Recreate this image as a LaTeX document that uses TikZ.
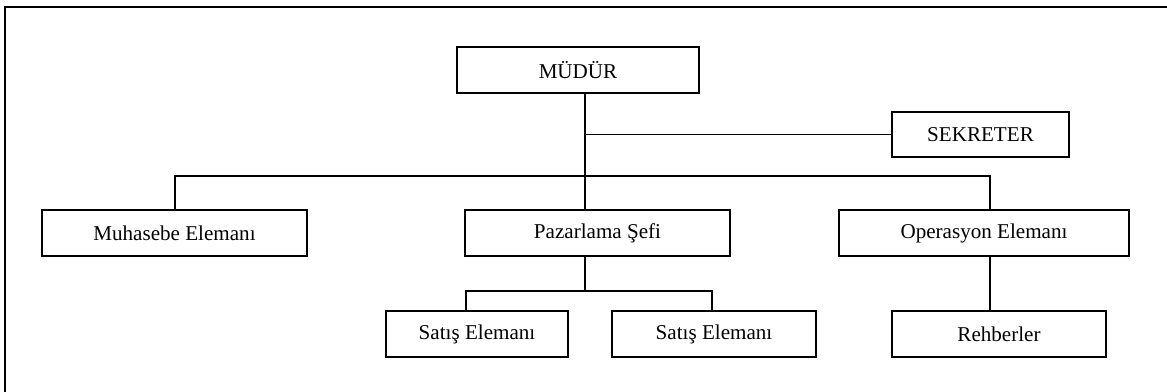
\documentclass[tikz,border=0pt]{standalone}
\usepackage{fontspec}
\setmainfont{Liberation Serif}
\begin{document}
\begin{tikzpicture}[x=0.2mm,y=-0.2mm,line width=1.1pt,
    unitbox/.style={draw,line width=1.1pt,minimum height=9.2mm,inner sep=0pt,
      font=\fontsize{12pt}{14pt}\selectfont}]
        \useasboundingbox (0,0) rectangle (1167,392);
        % draw outer frame
        \draw (5,7) rectangle (1190,410);
        % boxes
        \node[unitbox,minimum width=48.4mm] (mudur) at (578,70) {MÜDÜR};
        \node[unitbox,minimum width=35.4mm,minimum height=9mm] (sekreter) at (980.5,134.5) {SEKRETER};
        \node[unitbox,minimum width=53mm] (muhasebe) at (174.5,233) {Muhasebe Elemanı};
        \node[unitbox,minimum width=53mm] (pazarlama) at (597.5,233) {Pazarlama Şefi};
        \node[unitbox,minimum width=58mm] (operasyon) at (984,233) {Operasyon Elemanı};
        \node[unitbox,minimum width=36.4mm] (satisA) at (477,334) {Satış Elemanı};
        \node[unitbox,minimum width=40.8mm] (satisB) at (714,334) {Satış Elemanı};
        \node[unitbox,minimum width=42.8mm] (rehber) at (999,334) {Rehberler};
        % main stem and buses
        \coordinate (stem) at (585,176);
        \coordinate (busL) at (175,176);
        \coordinate (busR) at (990,176);
        \coordinate (subL) at (466,291);
        \coordinate (subR) at (712,291);
        \draw (mudur.south -| stem) -- (pazarlama.north -| stem);
        \draw (sekreter.west) -- (sekreter.west -| stem);
        \draw (muhasebe.north -| busL) -- (busL) -- (busR) -- (operasyon.north -| busR);
        \draw (operasyon.south -| busR) -- (rehber.north -| busR);
        \draw (pazarlama.south -| stem) -- (subL -| stem);
        \draw (satisA.north -| subL) -- (subL) -- (subR) -- (satisB.north -| subR);
    \end{tikzpicture}
\end{document}
